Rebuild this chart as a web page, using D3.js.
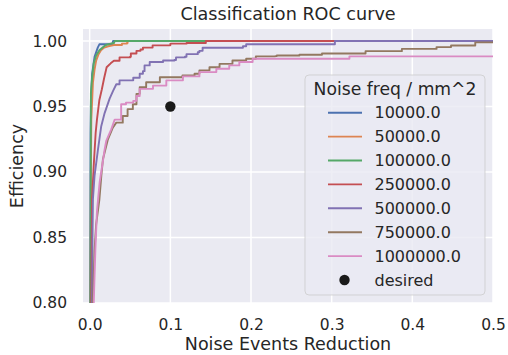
<!DOCTYPE html>
<html>
<head>
<meta charset="utf-8">
<script src="https://cdn.jsdelivr.net/npm/d3@7"></script>
<style>
  html, body { margin: 0; padding: 0; background: #ffffff; }
  svg { display: block; font-family: "DejaVu Sans", sans-serif; }
</style>
</head>
<body>
<svg id="chart" width="508" height="355"></svg>
<script>
// ROC curves (noise events reduction vs. efficiency) for each noise frequency
const noiseLevels = ["10000.0", "50000.0", "100000.0", "250000.0", "500000.0", "750000.0", "1000000.0"];
const palette = ["#4c72b0", "#dd8452", "#55a868", "#c44e52", "#8172b3", "#937860", "#da8bc3"];

const roc10000 = [[0,0.78],[0.0005,0.80],[0.001,0.93],[0.0015,0.955],[0.003,0.975],[0.006,0.988],[0.010,0.995],[0.012,0.9975],[0.028,0.9975],[0.029,1.0],[0.5,1.0]];
const roc50000 = [[0,0.78],[0.001,0.80],[0.0015,0.90],[0.002,0.94],[0.004,0.968],[0.006,0.978],[0.008,0.985],[0.011,0.99],[0.014,0.993],[0.018,0.995],[0.023,0.996],[0.03,0.997],[0.04,0.998],[0.046,0.9985],[0.047,1.0],[0.5,1.0]];
const roc100000 = [[0,0.78],[0.001,0.80],[0.0015,0.96],[0.003,0.972],[0.005,0.983],[0.008,0.989],[0.012,0.993],[0.016,0.995],[0.02,0.997],[0.026,0.998],[0.03,0.9985],[0.031,1.0],[0.5,1.0]];
const roc250000 = [[0,0.78],[0.002,0.80],[0.0025,0.85],[0.003,0.88],[0.005,0.905],[0.0074,0.93],[0.009,0.94],[0.012,0.955],[0.015,0.963],[0.018,0.972],[0.021,0.980],[0.026,0.983],[0.03,0.985],[0.037,0.9875],[0.05,0.988],[0.051,0.9905],[0.057,0.9905],[0.058,0.9925],[0.063,0.9935],[0.066,0.995],[0.077,0.995],[0.078,0.9967],[0.098,0.9967],[0.1,0.998],[0.12,0.9985],[0.143,0.9985],[0.144,1.0],[0.5,1.0]];
const roc500000 = [[0,0.78],[0.003,0.80],[0.0035,0.85],[0.004,0.879],[0.006,0.897],[0.0102,0.917],[0.0143,0.935],[0.0185,0.945],[0.0247,0.956],[0.029,0.962],[0.033,0.967],[0.037,0.970],[0.052,0.970],[0.054,0.972],[0.062,0.975],[0.066,0.977],[0.068,0.9814],[0.0744,0.984],[0.091,0.9852],[0.105,0.9855],[0.107,0.9875],[0.118,0.988],[0.12,0.990],[0.134,0.9915],[0.136,0.9925],[0.14,0.9949],[0.19,0.996],[0.194,0.9975],[0.302,0.9975],[0.304,1.0],[0.5,1.0]];
const roc750000 = [[0,0.78],[0.004,0.80],[0.006,0.84],[0.008,0.86],[0.012,0.879],[0.0144,0.897],[0.0164,0.9097],[0.0226,0.925],[0.0288,0.934],[0.033,0.9377],[0.041,0.9428],[0.047,0.948],[0.0535,0.9518],[0.058,0.9597],[0.062,0.9648],[0.070,0.9686],[0.087,0.9724],[0.115,0.9737],[0.13,0.975],[0.136,0.9776],[0.1485,0.980],[0.161,0.9826],[0.177,0.9852],[0.194,0.9865],[0.204,0.9865],[0.206,0.9883],[0.23,0.9885],[0.232,0.989],[0.258,0.989],[0.26,0.9895],[0.286,0.9895],[0.288,0.9905],[0.34,0.9905],[0.342,0.9923],[0.385,0.9923],[0.387,0.994],[0.428,0.994],[0.43,0.9954],[0.446,0.9954],[0.448,0.9966],[0.476,0.9966],[0.478,0.999],[0.5,0.999]];
const roc1000000 = [[0,0.78],[0.005,0.80],[0.007,0.84],[0.009,0.87],[0.0123,0.892],[0.0185,0.917],[0.0205,0.9237],[0.0267,0.9326],[0.031,0.940],[0.039,0.9518],[0.045,0.953],[0.054,0.9543],[0.058,0.958],[0.062,0.9635],[0.0785,0.966],[0.095,0.970],[0.1156,0.973],[0.136,0.9763],[0.157,0.9788],[0.173,0.9814],[0.1855,0.984],[0.202,0.9865],[0.32,0.9865],[0.322,0.9883],[0.5,0.9883]];
const curves = [roc10000, roc50000, roc100000, roc250000, roc500000, roc750000, roc1000000];

// Target working point
const desired = [0.1, 0.95];

const xTicks = [0.0, 0.1, 0.2, 0.3, 0.4, 0.5];
const yTicks = [0.80, 0.85, 0.90, 0.95, 1.00];

const svg = d3.select("#chart");
const margin = { left: 83, top: 29, right: 15, bottom: 52 };
const W = 508, H = 355;
const x = d3.scaleLinear().domain([-0.0083, 0.5]).range([margin.left, W - margin.right]);
const y = d3.scaleLinear().domain([0.80, 1.0092]).range([H - margin.bottom, margin.top]);

// Plot background
svg.append("rect")
  .attr("x", x.range()[0]).attr("y", y.range()[1])
  .attr("width", x.range()[1] - x.range()[0])
  .attr("height", y.range()[0] - y.range()[1])
  .attr("fill", "#eaeaf2");

svg.append("clipPath").attr("id", "plot-clip")
  .append("rect")
  .attr("x", x.range()[0]).attr("y", y.range()[1])
  .attr("width", x.range()[1] - x.range()[0])
  .attr("height", y.range()[0] - y.range()[1]);

// Grid
const grid = svg.append("g").attr("clip-path", "url(#plot-clip)");
grid.selectAll(".gx").data(xTicks).join("line")
  .attr("x1", d => x(d)).attr("x2", d => x(d))
  .attr("y1", y.range()[1]).attr("y2", y.range()[0])
  .attr("stroke", "#ffffff").attr("stroke-width", 1.5);
grid.selectAll(".gy").data(yTicks).join("line")
  .attr("y1", d => y(d)).attr("y2", d => y(d))
  .attr("x1", x.range()[0]).attr("x2", x.range()[1])
  .attr("stroke", "#ffffff").attr("stroke-width", 1.5);

// Axes
const xAxis = svg.append("g")
  .attr("transform", `translate(0,${y.range()[0]})`)
  .call(d3.axisBottom(x).tickValues(xTicks).tickFormat(d3.format(".1f")).tickSize(0).tickPadding(16));
const yAxis = svg.append("g")
  .attr("transform", `translate(${x.range()[0]},0)`)
  .call(d3.axisLeft(y).tickValues(yTicks).tickFormat(d3.format(".2f")).tickSize(0).tickPadding(16));
[xAxis, yAxis].forEach(a => {
  a.select(".domain").remove();
  a.selectAll("text")
    .attr("fill", "#262626")
    .style("font-family", "DejaVu Sans, sans-serif")
    .style("font-size", "15.5px");
});

// Curves: the steep start is drawn point to point, the flatter tail as a staircase
const stepFrom = 0.035;
function staircase(pts) {
  const out = [pts[0]];
  for (let i = 1; i < pts.length; i++) {
    if (pts[i][0] > stepFrom && pts[i][1] !== pts[i - 1][1]) {
      out.push([pts[i][0], pts[i - 1][1]]);
    }
    out.push(pts[i]);
  }
  return out;
}
const line = d3.line()
  .x(d => x(d[0]))
  .y(d => y(d[1]));
const curveLayer = svg.append("g").attr("clip-path", "url(#plot-clip)");
curves.forEach((c, i) => {
  curveLayer.append("path")
    .datum(staircase(c))
    .attr("d", line)
    .attr("fill", "none")
    .attr("stroke", palette[i])
    .attr("stroke-width", 1.9)
    .attr("stroke-linejoin", "round");
});

// Desired point
curveLayer.append("circle")
  .attr("cx", x(desired[0])).attr("cy", y(desired[1]))
  .attr("r", 5.2).attr("fill", "#1a1a1a");

// Titles and labels
svg.append("text")
  .attr("x", (x.range()[0] + x.range()[1]) / 2).attr("y", 20)
  .attr("text-anchor", "middle")
  .attr("fill", "#262626").style("font-size", "17.6px")
  .text("Classification ROC curve");
svg.append("text")
  .attr("x", (x.range()[0] + x.range()[1]) / 2).attr("y", 350)
  .attr("text-anchor", "middle")
  .attr("fill", "#262626").style("font-size", "17.5px")
  .text("Noise Events Reduction");
svg.append("text")
  .attr("transform", `translate(17,${(y.range()[0] + y.range()[1]) / 2}) rotate(-90)`)
  .attr("text-anchor", "middle").attr("dominant-baseline", "central")
  .attr("fill", "#262626").style("font-size", "17.5px")
  .text("Efficiency");

// Legend
const legend = svg.append("g");
legend.append("rect")
  .attr("x", 305).attr("y", 75).attr("width", 180).attr("height", 220)
  .attr("rx", 4)
  .attr("fill", "#eaeaf2").attr("fill-opacity", 0.8)
  .attr("stroke", "#cccccc").attr("stroke-opacity", 0.8).attr("stroke-width", 1);
legend.append("text")
  .attr("x", 395).attr("y", 89)
  .attr("text-anchor", "middle").attr("dominant-baseline", "central")
  .attr("fill", "#262626").style("font-size", "17.2px")
  .text("Noise freq / mm^2");
const rowY = i => 112.7 + i * 23.9;
noiseLevels.forEach((lab, i) => {
  legend.append("line")
    .attr("x1", 328).attr("x2", 362)
    .attr("y1", rowY(i)).attr("y2", rowY(i))
    .attr("stroke", palette[i]).attr("stroke-width", 1.9);
  legend.append("text")
    .attr("x", 374.5).attr("y", rowY(i))
    .attr("dominant-baseline", "central")
    .attr("fill", "#262626").style("font-size", "16px")
    .text(lab);
});
legend.append("circle")
  .attr("cx", 344.5).attr("cy", rowY(7)).attr("r", 5.2).attr("fill", "#1a1a1a");
legend.append("text")
  .attr("x", 374.5).attr("y", rowY(7))
  .attr("dominant-baseline", "central")
  .attr("fill", "#262626").style("font-size", "16px")
  .text("desired");
</script>
</body>
</html>
